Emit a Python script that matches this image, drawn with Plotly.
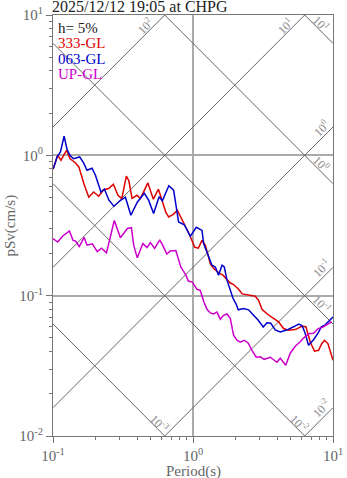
import math
import plotly.graph_objects as go

# ---------------- data ----------------
T_333 = [0.100, 0.108, 0.114, 0.125, 0.132, 0.145, 0.153, 0.166, 0.180, 0.195,
         0.212, 0.230, 0.250, 0.270, 0.291, 0.310, 0.334, 0.348, 0.367, 0.398,
         0.421, 0.476, 0.521, 0.566, 0.601, 0.639, 0.670, 0.724, 0.773, 0.857,
         0.941, 1.030, 1.091, 1.160, 1.224, 1.271, 1.329, 1.403, 1.484, 1.549,
         1.637, 1.749, 1.846, 1.949, 2.116, 2.248, 2.401, 2.784, 2.939, 3.109,
         3.375, 3.664, 4.083, 4.435, 4.813, 5.373, 5.998, 6.406, 6.877, 7.379,
         7.879, 8.333, 8.698, 9.196, 9.709, 10.0]
V_333 = [0.796, 1.002, 0.923, 1.087, 0.949, 0.883, 0.827, 0.630, 0.503, 0.548,
         0.511, 0.569, 0.580, 0.622, 0.519, 0.492, 0.710, 0.659, 0.494, 0.519,
         0.492, 0.636, 0.487, 0.573, 0.479, 0.393, 0.364, 0.380, 0.406, 0.331,
         0.274, 0.221, 0.218, 0.248, 0.229, 0.200, 0.169, 0.156, 0.148, 0.144,
         0.140, 0.129, 0.123, 0.120, 0.111, 0.103, 0.102, 0.0990, 0.0927, 0.0800,
         0.0743, 0.0705, 0.0650, 0.0583, 0.0567, 0.0573, 0.0605, 0.0600, 0.0468, 0.0402,
         0.0408, 0.0456, 0.0481, 0.0456, 0.0387, 0.0346]

T_063 = [0.1007, 0.107, 0.113, 0.120, 0.126, 0.132, 0.140, 0.155, 0.165, 0.175,
         0.190, 0.201, 0.220, 0.233, 0.251, 0.272, 0.298, 0.329, 0.360, 0.400,
         0.449, 0.482, 0.523, 0.573, 0.604, 0.672, 0.727, 0.789, 0.867, 0.957,
         1.056, 1.160, 1.191, 1.245, 1.293, 1.366, 1.443, 1.523, 1.611, 1.673,
         1.749, 1.846, 1.930, 2.037, 2.105, 2.297, 2.495, 2.707, 2.925, 3.176,
         3.375, 3.593, 3.868, 4.200, 4.712, 5.225, 5.691, 6.028, 6.333, 6.685,
         7.259, 7.879, 8.237, 8.797, 9.395, 10.0]
V_063 = [0.805, 0.974, 1.057, 1.368, 1.105, 1.002, 0.946, 0.974, 0.886, 0.783,
         0.809, 0.721, 0.548, 0.573, 0.479, 0.434, 0.471, 0.503, 0.374, 0.463,
         0.537, 0.479, 0.385, 0.507, 0.475, 0.607, 0.564, 0.335, 0.320, 0.265,
         0.307, 0.292, 0.235, 0.211, 0.189, 0.165, 0.160, 0.140, 0.165, 0.160,
         0.129, 0.109, 0.0958, 0.0868, 0.0793, 0.0809, 0.0793, 0.0725, 0.0668, 0.0598,
         0.0641, 0.0636, 0.0571, 0.0551, 0.0571, 0.0600, 0.0628, 0.0610, 0.0537, 0.0443,
         0.0485, 0.0548, 0.0600, 0.0620, 0.0660, 0.0705]

T_UP = [0.100, 0.108, 0.117, 0.131, 0.139, 0.145, 0.154, 0.167, 0.175, 0.191,
        0.207, 0.222, 0.241, 0.274, 0.303, 0.340, 0.363, 0.377, 0.400, 0.438,
        0.470, 0.496, 0.532, 0.579, 0.607, 0.650, 0.689, 0.754, 0.818, 0.888,
        0.926, 0.989, 1.068, 1.127, 1.191, 1.259, 1.329, 1.403, 1.484, 1.566,
        1.654, 1.749, 1.846, 1.949, 2.061, 2.176, 2.324, 2.482, 2.637, 2.830,
        3.022, 3.228, 3.562, 3.761, 3.978, 4.200, 4.596, 4.950, 5.373, 5.833,
        6.281, 6.764, 7.259, 7.841, 8.416, 9.045, 9.822]
V_UP = [0.255, 0.241, 0.265, 0.289, 0.248, 0.245, 0.224, 0.260, 0.229, 0.234,
        0.206, 0.218, 0.202, 0.343, 0.259, 0.301, 0.305, 0.229, 0.186, 0.235,
        0.220, 0.239, 0.217, 0.250, 0.229, 0.198, 0.208, 0.210, 0.160, 0.141,
        0.127, 0.125, 0.111, 0.109, 0.0912, 0.0800, 0.0753, 0.0741, 0.0765, 0.0679,
        0.0725, 0.0741, 0.0690, 0.0522, 0.0481, 0.0466, 0.0481, 0.0458, 0.0408, 0.0364,
        0.0367, 0.0352, 0.0364, 0.0350, 0.0335, 0.0358, 0.0319, 0.0389, 0.0436, 0.0469,
        0.0509, 0.0537, 0.0540, 0.0583, 0.0595, 0.0622, 0.0650]

SERIES_NAMES = ["333-GL", "063-GL", "UP-GL"]
SERIES_COLORS = ["#dd0000", "#0000cc", "#cc00cc"]

ACC_LEVELS = [0.01, 0.1, 1, 10, 100]      # cm/s^2 (up-right guide lines)
DISP_LEVELS = [0.001, 0.01, 0.1, 1, 10]   # cm (down-right guide lines)

X_TICKS = [0.1, 1, 10]
X_TICK_TEXT = ["10<sup>-1</sup>", "10<sup>0</sup>", "10<sup>1</sup>"]
Y_TICKS = [0.01, 0.1, 1, 10]
Y_TICK_TEXT = ["10<sup>-2</sup>", "10<sup>-1</sup>", "10<sup>0</sup>", "10<sup>1</sup>"]
MINOR = [k * 10 ** e for e in (-2, -1, 0) for k in range(2, 10)]

TITLE = "2025/12/12 19:05 at CHPG"
DAMPING = "h= 5%"
X_TITLE = "Period(s)"
Y_TITLE = "pSv(cm/s)"

T_MIN, T_MAX = 0.1, 10.0
V_MIN, V_MAX = 0.01, 10.0

FONT = "Liberation Serif, Times New Roman, serif"
GUIDE = "#666666"
LABEL_GRAY = "#8a8a8a"
TWO_PI = 2 * math.pi


def sup_label(val):
    return "10<sup>%d</sup>" % round(math.log10(val))


fig = go.Figure()
annotations = []

# acceleration guide lines: v = A T / (2 pi)
for a in ACC_LEVELS:
    fig.add_trace(go.Scatter(x=[T_MIN, T_MAX], y=[a * T_MIN / TWO_PI, a * T_MAX / TWO_PI],
                             mode="lines", line=dict(color=GUIDE, width=1),
                             hoverinfo="skip", showlegend=False))
    t_top = TWO_PI * V_MAX / a
    if t_top <= T_MAX:
        ax, ay, xs, ys = t_top, V_MAX, -20, -11
    else:
        ax, ay, xs, ys = T_MAX, a * T_MAX / TWO_PI, -12, -1
    annotations.append(dict(x=math.log10(ax), y=math.log10(ay), xref="x", yref="y",
                            text=sup_label(a), showarrow=False, textangle=-45,
                            xshift=xs, yshift=ys, font=dict(family=FONT, size=12, color=LABEL_GRAY)))

# displacement guide lines: v = 2 pi D / T
for d in DISP_LEVELS:
    fig.add_trace(go.Scatter(x=[T_MIN, T_MAX], y=[TWO_PI * d / T_MIN, TWO_PI * d / T_MAX],
                             mode="lines", line=dict(color=GUIDE, width=1),
                             hoverinfo="skip", showlegend=False))
    v_right = TWO_PI * d / T_MAX
    if v_right >= V_MIN:
        ax, ay, xs, ys = T_MAX, v_right, -12, 20
    else:
        ax, ay, xs, ys = TWO_PI * d / V_MIN, V_MIN, -5, 13
    annotations.append(dict(x=math.log10(ax), y=math.log10(ay), xref="x", yref="y",
                            text=sup_label(d), showarrow=False, textangle=45,
                            xshift=xs, yshift=ys, font=dict(family=FONT, size=12, color=LABEL_GRAY)))

# response spectra
for tt, vv, name, col in zip([T_333, T_063, T_UP], [V_333, V_063, V_UP], SERIES_NAMES, SERIES_COLORS):
    fig.add_trace(go.Scatter(x=tt, y=vv, mode="lines", name=name,
                             line=dict(color=col, width=1.5), showlegend=False))

# in-plot legend text
legend_items = [(DAMPING, "#222222")] + list(zip(SERIES_NAMES, SERIES_COLORS))
for i, (txt, col) in enumerate(legend_items):
    annotations.append(dict(x=0, y=1, xref="paper", yref="paper", xanchor="left", yanchor="middle",
                            xshift=3, yshift=-13 - 15.3 * i, text=txt, showarrow=False,
                            font=dict(family=FONT, size=15, color=col)))

# chart title
annotations.append(dict(x=0, y=1, xref="paper", yref="paper", xanchor="left", yanchor="bottom",
                        xshift=-3, yshift=-2, text=TITLE, showarrow=False,
                        font=dict(family=FONT, size=16, color="#222222")))

# axis titles
annotations.append(dict(x=0.5, y=0, xref="paper", yref="paper", xanchor="center", yanchor="middle",
                        yshift=-35, text=X_TITLE, showarrow=False,
                        font=dict(family=FONT, size=15, color="#666666")))
annotations.append(dict(x=0, y=0.5, xref="paper", yref="paper", xanchor="center", yanchor="middle",
                        xshift=-43, text=Y_TITLE, showarrow=False, textangle=-90,
                        font=dict(family=FONT, size=15, color="#666666")))

axis_common = dict(type="log", showline=True, linecolor="#777777", linewidth=1, mirror=True,
                   ticks="outside", ticklen=6, tickcolor="#777777", tickwidth=1,
                   showgrid=True, gridcolor="#aaaaaa", gridwidth=1.5, zeroline=False,
                   automargin=False,
                   tickfont=dict(family=FONT, size=15, color="#666666"),
                   minor=dict(tickvals=MINOR, ticks="outside", ticklen=3, tickcolor="#777777",
                              showgrid=False))

fig.update_layout(
    width=347, height=478,
    margin=dict(l=53, r=14, t=15, b=42, autoexpand=False),
    paper_bgcolor="white", plot_bgcolor="white",
    showlegend=False,
    annotations=annotations,
    xaxis=dict(axis_common, range=[-1, 1], tickvals=X_TICKS, ticktext=X_TICK_TEXT),
    yaxis=dict(axis_common, range=[-2, 1], tickvals=Y_TICKS, ticktext=Y_TICK_TEXT),
)

fig.write_html("out.html")
